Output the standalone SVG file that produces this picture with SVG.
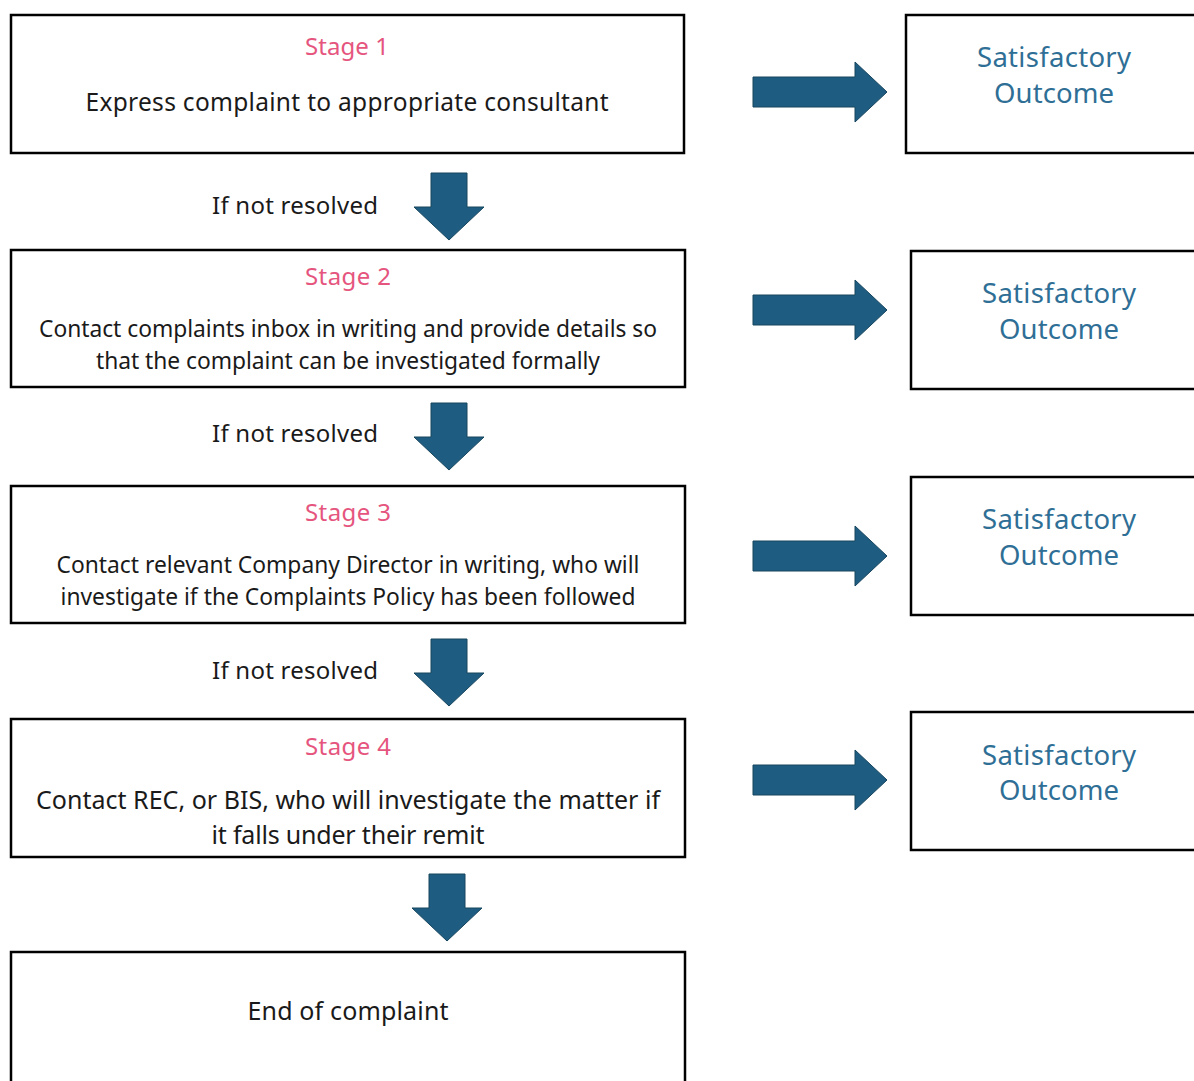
<svg xmlns="http://www.w3.org/2000/svg" width="1194" height="1081" viewBox="0 0 1194 1081">
<style>
.box{fill:#fff;stroke:#000;stroke-width:2.5}
.t{font-family:"Noto Sans","Liberation Sans",sans-serif;text-anchor:middle;fill:#1a1a1a}
.st{font-family:"Noto Sans","Liberation Sans",sans-serif;text-anchor:middle;fill:#e5557e;font-size:24px}
.so{font-family:"Noto Sans","Liberation Sans",sans-serif;text-anchor:middle;fill:#2f6f96;font-size:27.5px}
.lbl{font-family:"Noto Sans","Liberation Sans",sans-serif;fill:#1a1a1a;font-size:24px}
.arr{fill:#1f5c81;stroke:#17465f;stroke-width:1}
</style>
<defs>
<path id="ra" d="M0,-15 H102 V-30 L134,0 L102,30 V15 H0 Z"/>
<path id="da" d="M-18,0 H18 V34 H35 L0,67 L-35,34 H-18 Z"/>
</defs>
<rect width="1194" height="1081" fill="#fff"/>
<g id="connectors">
<use href="#ra" class="arr" x="753" y="92"/>
<use href="#ra" class="arr" x="753" y="310"/>
<use href="#ra" class="arr" x="753" y="556"/>
<use href="#ra" class="arr" x="753" y="780"/>
<use href="#da" class="arr" x="449" y="173"/>
<use href="#da" class="arr" x="449" y="403"/>
<use href="#da" class="arr" x="449" y="639"/>
<use href="#da" class="arr" x="447" y="874"/>
<text class="lbl" x="212" y="214" textLength="166">If not resolved</text>
<text class="lbl" x="212" y="442" textLength="166">If not resolved</text>
<text class="lbl" x="212" y="679" textLength="166">If not resolved</text>
</g>
<g id="stage1">
<rect class="box" x="11" y="15" width="673" height="138"/>
<text class="st" x="347" y="55" textLength="84">Stage 1</text>
<text class="t" x="347" y="111" font-size="24.5" textLength="523">Express complaint to appropriate consultant</text>
</g>
<g id="stage2">
<rect class="box" x="11" y="250" width="674" height="137"/>
<text class="st" x="348" y="285" textLength="86">Stage 2</text>
<text class="t" x="348" y="337" font-size="22.8" textLength="618">Contact complaints inbox in writing and provide details so</text>
<text class="t" x="348" y="369" font-size="22.8" textLength="504">that the complaint can be investigated formally</text>
</g>
<g id="stage3">
<rect class="box" x="11" y="486" width="674" height="137"/>
<text class="st" x="348" y="521" textLength="86">Stage 3</text>
<text class="t" x="348" y="573" font-size="22.8" textLength="583">Contact relevant Company Director in writing, who will</text>
<text class="t" x="348" y="605" font-size="22.8" textLength="575">investigate if the Complaints Policy has been followed</text>
</g>
<g id="stage4">
<rect class="box" x="11" y="719" width="674" height="138"/>
<text class="st" x="348" y="755" textLength="86">Stage 4</text>
<text class="t" x="348" y="809" font-size="25" textLength="624">Contact REC, or BIS, who will investigate the matter if</text>
<text class="t" x="348" y="844" font-size="25" textLength="273">it falls under their remit</text>
</g>
<g id="end">
<rect class="box" x="11" y="952" width="674" height="140"/>
<text class="t" x="348" y="1020" font-size="25" textLength="201">End of complaint</text>
</g>
<g id="outcome1">
<rect class="box" x="906" y="15" width="300" height="138"/>
<text class="so" x="1054" y="67" textLength="154">Satisfactory</text>
<text class="so" x="1054" y="103" textLength="120">Outcome</text>
</g>
<g id="outcome2">
<rect class="box" x="911" y="251" width="300" height="138"/>
<text class="so" x="1059" y="303" textLength="154">Satisfactory</text>
<text class="so" x="1059" y="339" textLength="120">Outcome</text>
</g>
<g id="outcome3">
<rect class="box" x="911" y="477" width="300" height="138"/>
<text class="so" x="1059" y="529" textLength="154">Satisfactory</text>
<text class="so" x="1059" y="565" textLength="120">Outcome</text>
</g>
<g id="outcome4">
<rect class="box" x="911" y="712" width="300" height="138"/>
<text class="so" x="1059" y="765" textLength="154">Satisfactory</text>
<text class="so" x="1059" y="800" textLength="120">Outcome</text>
</g>
</svg>
